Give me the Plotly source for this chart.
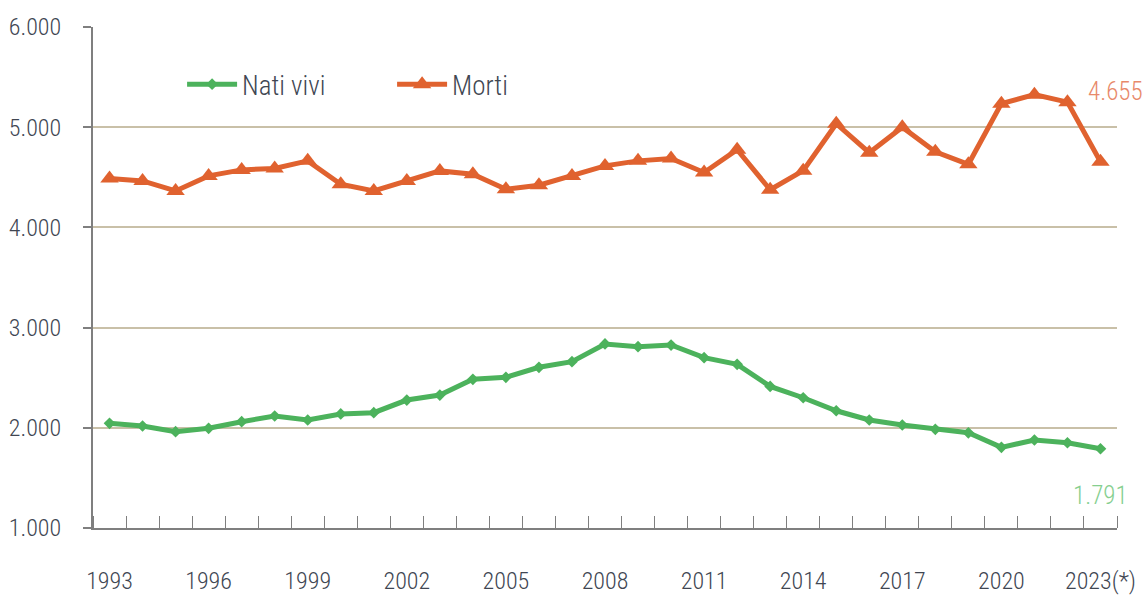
import plotly.graph_objects as go

years = list(range(1993, 2024))
nati_vivi = [2045, 2018, 1961, 1995, 2061, 2118, 2078, 2138, 2151, 2277, 2327, 2484, 2504, 2604,
             2660, 2837, 2810, 2826, 2700, 2633, 2413, 2300, 2170, 2078, 2028, 1985, 1950, 1805,
             1878, 1851, 1791]
morti = [4488, 4464, 4364, 4514, 4574, 4588, 4664, 4431, 4364, 4464, 4564, 4531, 4381, 4421,
         4514, 4614, 4664, 4688, 4548, 4776, 4376, 4566, 5035, 4745, 5000, 4755, 4630, 5235,
         5325, 5250, 4655]
label_years = [1993, 1996, 1999, 2002, 2005, 2008, 2011, 2014, 2017, 2020, 2023]
label_text = ["1993", "1996", "1999", "2002", "2005", "2008", "2011", "2014", "2017", "2020", "2023(*)"]
y_ticks = [1000, 2000, 3000, 4000, 5000, 6000]

GREEN = "#4cb25c"
ORANGE = "#e0622f"
FONT = "Roboto Condensed, Liberation Sans Narrow, sans-serif"

def it(v):
    return f"{v:,}".replace(",", ".")

fig = go.Figure()
fig.add_trace(go.Scatter(
    x=years, y=nati_vivi, name="Nati vivi", mode="lines+markers",
    line=dict(color=GREEN, width=5),
    marker=dict(symbol="diamond", size=9, color=GREEN),
))
fig.add_trace(go.Scatter(
    x=years, y=morti, name="Morti", mode="lines+markers",
    line=dict(color=ORANGE, width=5),
    marker=dict(symbol="triangle-up", size=16, color=ORANGE),
))

fig.add_annotation(x=years[-1], y=morti[-1], text=it(morti[-1]), showarrow=False,
                   xshift=15, yshift=70,
                   font=dict(color="#e8896a", size=25, family=FONT, weight=300))
fig.add_annotation(x=years[-1], y=nati_vivi[-1], text=it(nati_vivi[-1]), showarrow=False,
                   xshift=0, yshift=-47,
                   font=dict(color="#86cf90", size=25, family=FONT, weight=300))

fig.update_layout(
    width=1147, height=595,
    margin=dict(l=93, r=30, t=27, b=67, autoexpand=False),
    paper_bgcolor="white", plot_bgcolor="white",
    font=dict(family=FONT, size=24, color="#404652", weight=300),
    separators=",.",
    showlegend=True,
    legend=dict(orientation="h", x=0.087, y=0.885, xanchor="left", yanchor="middle",
                font=dict(size=27, color="#404652", weight=300), bgcolor="rgba(0,0,0,0)",
                itemwidth=50, entrywidthmode="pixels", entrywidth=145),
)
fig.update_xaxes(
    range=[1992.5, 2023.5], automargin=False,
    tickmode="array", tickvals=label_years, ticktext=label_text,
    ticks="", showgrid=False, zeroline=False,
    showline=True, linecolor="#7f7f7f", linewidth=2,
    ticklabelstandoff=30,
    minor=dict(ticks="inside", ticklen=12, tickcolor="#7f7f7f", tickwidth=1,
               tick0=1992.5, dtick=1, showgrid=False),
)
fig.update_yaxes(
    range=[1000, 6000], automargin=False,
    tickmode="array", tickvals=y_ticks, ticktext=[it(v) for v in y_ticks],
    ticks="outside", ticklen=8, tickcolor="#7f7f7f", tickwidth=2,
    showline=True, linecolor="#7f7f7f", linewidth=2,
    showgrid=True, gridcolor="#c9c0a8", gridwidth=2,
    zeroline=False, ticklabelstandoff=17,
)

fig.write_html("out.html", config={"displayModeBar": False},
               post_script="document.body.style.margin='0';document.body.style.overflow='hidden';")
